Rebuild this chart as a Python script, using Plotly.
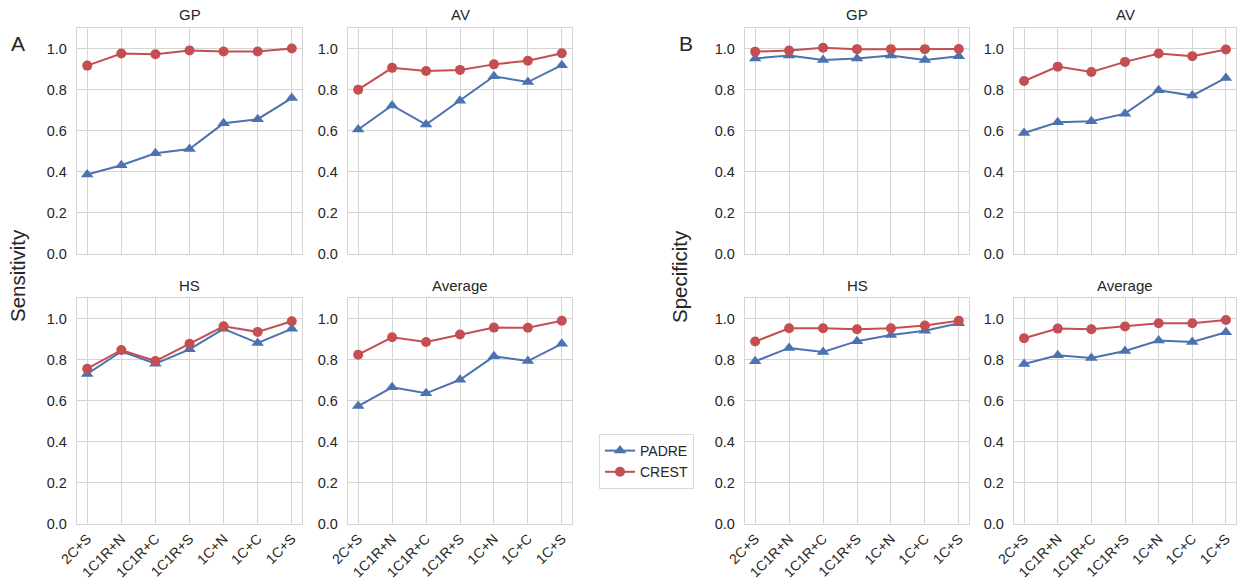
import plotly.graph_objects as go

categories = ["2C+S", "1C1R+N", "1C1R+C", "1C1R+S", "1C+N", "1C+C", "1C+S"]
panel_titles = ["GP", "AV", "HS", "Average"]
series_names = ["PADRE", "CREST"]
y_ticks = [0.0, 0.2, 0.4, 0.6, 0.8, 1.0]

# Panel A: Sensitivity
sens_gp_padre = [0.387, 0.432, 0.490, 0.511, 0.636, 0.656, 0.759]
sens_gp_crest = [0.917, 0.976, 0.972, 0.991, 0.986, 0.986, 1.000]
sens_av_padre = [0.606, 0.723, 0.630, 0.746, 0.865, 0.837, 0.919]
sens_av_crest = [0.800, 0.906, 0.891, 0.896, 0.923, 0.941, 0.977]
sens_hs_padre = [0.730, 0.840, 0.780, 0.850, 0.950, 0.881, 0.950]
sens_hs_crest = [0.756, 0.847, 0.793, 0.877, 0.962, 0.935, 0.987]
sens_avg_padre = [0.574, 0.665, 0.636, 0.702, 0.816, 0.793, 0.877]
sens_avg_crest = [0.824, 0.909, 0.886, 0.922, 0.956, 0.955, 0.989]

# Panel B: Specificity
spec_gp_padre = [0.952, 0.966, 0.944, 0.952, 0.966, 0.944, 0.963]
spec_gp_crest = [0.985, 0.990, 1.004, 0.997, 0.997, 0.997, 0.998]
spec_av_padre = [0.589, 0.641, 0.646, 0.683, 0.797, 0.771, 0.857]
spec_av_crest = [0.842, 0.912, 0.886, 0.935, 0.976, 0.963, 0.995]
spec_hs_padre = [0.792, 0.857, 0.837, 0.890, 0.920, 0.941, 0.977]
spec_hs_crest = [0.888, 0.953, 0.953, 0.948, 0.953, 0.966, 0.989]
spec_avg_padre = [0.779, 0.821, 0.808, 0.842, 0.893, 0.886, 0.933]
spec_avg_crest = [0.904, 0.951, 0.948, 0.961, 0.977, 0.977, 0.993]

W, H = 1238, 579
TXT = "#262626"
GRID = "#d5d5d5"
FONT = "Liberation Sans, Arial, sans-serif"
BLUE = "#4C72B0"
RED = "#C44E52"

# pixel boxes of the 8 axes (left, right, top, bottom)
col_px = [(77, 302), (348, 572), (745, 969), (1014, 1236)]
row_px = [(28, 254), (298, 524)]

panel_data = [
    [(sens_gp_padre, sens_gp_crest), (sens_av_padre, sens_av_crest),
     (sens_hs_padre, sens_hs_crest), (sens_avg_padre, sens_avg_crest)],
    [(spec_gp_padre, spec_gp_crest), (spec_av_padre, spec_av_crest),
     (spec_hs_padre, spec_hs_crest), (spec_avg_padre, spec_avg_crest)],
]

fig = go.Figure()
layout = {}
annotations = []
idx = 0
for p in range(2):
    for k in range(4):
        idx += 1
        r = k // 2
        c = p * 2 + (k % 2)
        xl, xr = col_px[c]
        yt, yb = row_px[r]
        xd = [xl / W, xr / W]
        yd = [1 - yb / H, 1 - yt / H]
        sfx = "" if idx == 1 else str(idx)
        padre, crest = panel_data[p][k]
        for name, vals, col, sym in [(series_names[0], padre, BLUE, "triangle-up"),
                                     (series_names[1], crest, RED, "circle")]:
            fig.add_trace(go.Scatter(
                x=categories, y=vals, mode="lines+markers", name=name,
                legendgroup=name, showlegend=(idx == 1),
                line=dict(color=col, width=2),
                marker=dict(symbol=sym, size=10 if sym == "circle" else 11, color=col),
                xaxis="x" + sfx, yaxis="y" + sfx, cliponaxis=False))
        layout["xaxis" + sfx] = dict(
            domain=xd, anchor="y" + sfx, type="category", automargin=False,
            range=[-0.3, 6.3], showgrid=True, gridcolor=GRID, gridwidth=1,
            showline=True, linecolor=GRID, linewidth=1.3, mirror=True,
            zeroline=False, ticks="", tickangle=-45,
            showticklabels=(r == 1), tickfont=dict(size=14, color=TXT, family=FONT))
        layout["yaxis" + sfx] = dict(
            domain=yd, anchor="x" + sfx, range=[0, 1.1], automargin=False,
            tickvals=y_ticks, tickformat=".1f",
            showgrid=True, gridcolor=GRID, gridwidth=1,
            showline=True, linecolor=GRID, linewidth=1.3, mirror=True,
            zeroline=False, ticks="", ticklabelstandoff=6,
            tickfont=dict(size=14.5, color=TXT, family=FONT))
        annotations.append(dict(
            text=panel_titles[k], x=(xd[0] + xd[1]) / 2, y=1 - (yt - 13) / H,
            xref="paper", yref="paper", showarrow=False,
            xanchor="center", yanchor="middle",
            font=dict(size=15, color=TXT, family=FONT)))

for txt, xp in [("Sensitivity", 18), ("Specificity", 680)]:
    annotations.append(dict(text=txt, x=xp / W, y=1 - 276 / H, xref="paper", yref="paper",
                            showarrow=False, textangle=-90, xanchor="center", yanchor="middle",
                            font=dict(size=20.5, color=TXT, family=FONT)))
for txt, xp in [("A", 18), ("B", 686)]:
    annotations.append(dict(text=txt, x=xp / W, y=1 - 44 / H, xref="paper", yref="paper",
                            showarrow=False, xanchor="center", yanchor="middle",
                            font=dict(size=21, color=TXT, family=FONT)))

fig.update_layout(
    width=W, height=H, margin=dict(l=0, r=0, t=0, b=0, autoexpand=False),
    paper_bgcolor="white", plot_bgcolor="white",
    annotations=annotations,
    legend=dict(x=599 / W, y=1 - 434 / H, xanchor="left", yanchor="top",
                bgcolor="white", bordercolor="#d9d9d9", borderwidth=1,
                font=dict(size=14, color=TXT, family=FONT), itemwidth=30,
                tracegroupgap=0),
    **layout)

fig.write_html("out.html")
